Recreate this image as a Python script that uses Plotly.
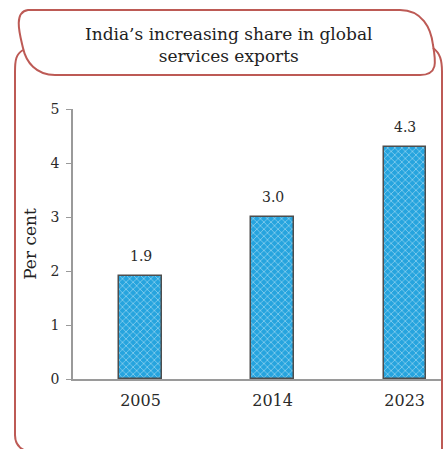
import plotly.graph_objects as go

# Data
years = ["2005", "2014", "2023"]
share = [1.9, 3.0, 4.3]
labels = ["1.9", "3.0", "4.3"]
y_ticks = [0, 1, 2, 3, 4, 5]

W, H = 443, 449
ML, MR, MT, MB = 73, 0, 109, 70
PW = W - ML - MR
PH = H - MT - MB

def px(x):
    return (x - ML) / PW

def py(y):
    return (H - MB - y) / PH

def path(cmds):
    out = []
    for c in cmds:
        if isinstance(c, str):
            out.append(c)
        else:
            out.append(f"{px(c[0]):.5f},{py(c[1]):.5f}")
    return " ".join(out)

FRAME = "#bd5a55"
SERIF = "DejaVu Serif, Liberation Serif, serif"

fig = go.Figure()
fig.add_trace(go.Bar(
    x=years, y=share, width=0.32,
    marker=dict(
        color="#2ba8e0",
        line=dict(color="#4d4d4d", width=1.5),
        pattern=dict(shape="x", fgcolor="#e6f7fd", bgcolor="#26a4de", size=5, solidity=0.3, fillmode="overlay"),
    ),
    hoverinfo="skip",
))

# value labels placed via the category axis index
for i, (v, lab) in enumerate(zip(share, labels)):
    fig.add_annotation(x=i, y=v, xref="x", yref="y", text=lab, showarrow=False,
                       yanchor="middle", yshift=20,
                       font=dict(family=SERIF, size=14, color="#2a2a2a"))

tab = path(["M", (28, 10), "L", (400, 10), "C", (422, 10), (431, 28), (433, 45),
            "C", (436, 62), (438, 75), (420, 75), "L", (55, 75),
            "C", (36, 75), (26, 62), (23, 48), "C", (20, 35), (13, 12), (28, 10), "Z"])
left = path(["M", (23, 50), "C", (16, 54), (15, 60), (15, 72), "L", (15, 435),
             "C", (15, 445), (20, 450), (30, 452)])
right = path(["M", (433, 48), "C", (440, 53), (442, 60), (442, 72), "L", (442, 455)])

for p in (tab, left, right):
    fig.add_shape(type="path", path=p, xref="paper", yref="paper",
                  line=dict(color=FRAME, width=2), fillcolor="rgba(0,0,0,0)", layer="above")

fig.add_annotation(text="India’s increasing share in global<br>services exports",
                   x=px(228), y=py(45), xref="paper", yref="paper", showarrow=False,
                   xanchor="center", yanchor="middle",
                   font=dict(family=SERIF, size=17, color="#222"), align="center")

fig.update_layout(
    width=W, height=H, margin=dict(l=ML, r=MR, t=MT, b=MB),
    paper_bgcolor="white", plot_bgcolor="white", showlegend=False,
    bargap=0,
)
fig.update_xaxes(type="category", range=[-0.511, 2.29], showline=True, linecolor="#9a9a9a", linewidth=1.5,
                 ticks="", showgrid=False, ticklabelstandoff=6,
                 tickfont=dict(family=SERIF, size=16, color="#2a2a2a"))
fig.update_yaxes(range=[0, 5], tickvals=y_ticks, showline=True, linecolor="#9a9a9a", linewidth=1.5,
                 ticks="outside", ticklen=5, tickcolor="#9a9a9a", showgrid=False, zeroline=False,
                 ticklabelstandoff=4,
                 tickfont=dict(family=SERIF, size=14, color="#2a2a2a"),
                 title=dict(text="Per cent", font=dict(family=SERIF, size=17, color="#222"), standoff=10))

fig.write_html("out.html", config={"displayModeBar": False},
               post_script="document.body.style.margin='0';")
